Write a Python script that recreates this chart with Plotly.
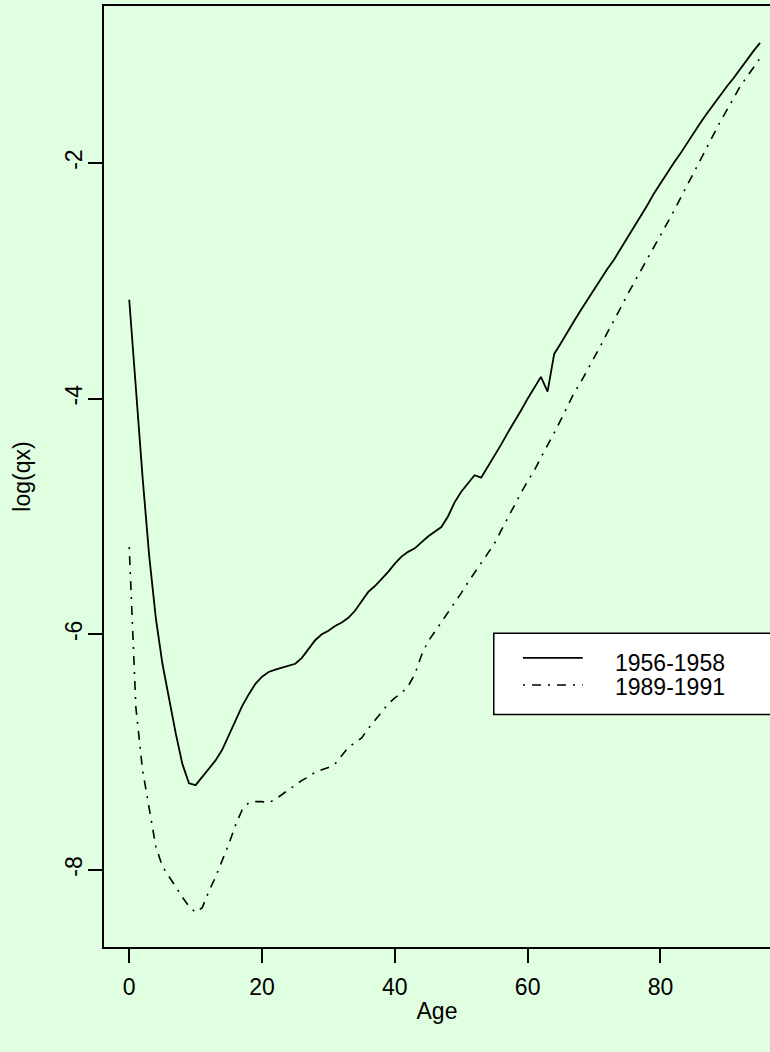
import plotly.graph_objects as go

ages = list(range(0, 96))

qx_1956 = [-3.16, -3.95, -4.66, -5.33, -5.86, -6.25, -6.56, -6.84, -7.10, -7.265,
           -7.28, -7.21, -7.14, -7.07, -6.98, -6.86, -6.73, -6.61, -6.51, -6.42,
           -6.36, -6.32, -6.30, -6.285, -6.27, -6.25, -6.20, -6.13, -6.05, -6.00,
           -5.97, -5.93, -5.90, -5.86, -5.80, -5.72, -5.64, -5.59, -5.53, -5.47,
           -5.40, -5.34, -5.30, -5.27, -5.22, -5.17, -5.13, -5.09, -5.00, -4.88,
           -4.79, -4.72, -4.65, -4.67, -4.58, -4.48, -4.39, -4.29, -4.20, -4.10,
           -4.00, -3.91, -3.815, -3.94, -3.62, -3.53, -3.43, -3.34, -3.25, -3.16,
           -3.07, -2.99, -2.90, -2.82, -2.73, -2.64, -2.55, -2.45, -2.36, -2.26,
           -2.17, -2.09, -2.00, -1.92, -1.83, -1.74, -1.66, -1.58, -1.50, -1.43,
           -1.35, -1.28, -1.20, -1.13, -1.05, -0.98]

qx_1989 = [-5.26, -6.62, -7.15, -7.48, -7.80, -7.97, -8.06, -8.15, -8.23, -8.31,
           -8.36, -8.32, -8.18, -8.06, -7.92, -7.78, -7.62, -7.49, -7.43, -7.42,
           -7.42, -7.43, -7.40, -7.36, -7.32, -7.28, -7.24, -7.21, -7.17, -7.15,
           -7.13, -7.10, -7.03, -6.96, -6.92, -6.88, -6.80, -6.73, -6.66, -6.59,
           -6.54, -6.50, -6.44, -6.34, -6.18, -6.06, -5.98, -5.90, -5.82, -5.74,
           -5.65, -5.56, -5.48, -5.40, -5.32, -5.23, -5.12, -5.01, -4.91, -4.80,
           -4.70, -4.61, -4.50, -4.40, -4.29, -4.18, -4.06, -3.95, -3.86, -3.76,
           -3.65, -3.55, -3.44, -3.34, -3.23, -3.12, -3.02, -2.91, -2.81, -2.71,
           -2.61, -2.51, -2.41, -2.30, -2.19, -2.08, -1.97, -1.86, -1.75, -1.65,
           -1.55, -1.45, -1.35, -1.27, -1.19, -1.11]

series_names = ["1956-1958", "1989-1991"]
x_ticks = [0, 20, 40, 60, 80]
y_ticks = [-8, -6, -4, -2]
y_tick_labels = ["-8", "-6", "-4", "-2"]

BG = "#E0FFE0"
FONT = "Liberation Sans, Arial, sans-serif"
DASHDOT = "2px,7px,9px,7px"

fig = go.Figure()
fig.add_trace(go.Scatter(x=ages, y=qx_1956, mode="lines", name=series_names[0],
                         line=dict(color="black", width=1.8), showlegend=False))
fig.add_trace(go.Scatter(x=ages, y=qx_1989, mode="lines", name=series_names[1],
                         line=dict(color="black", width=1.6, dash=DASHDOT), showlegend=False))

# legend box (right edge runs off the page like in the reference)
fig.add_shape(type="rect", xref="x", yref="y", x0=54.9, x1=110, y0=-6.68, y1=-5.99,
              line=dict(color="black", width=1.5), fillcolor="white", layer="below")
fig.add_shape(type="line", xref="x", yref="y", x0=59.3, x1=68.3, y0=-6.20, y1=-6.20,
              line=dict(color="black", width=1.6))
fig.add_shape(type="line", xref="x", yref="y", x0=59.3, x1=68.3, y0=-6.43, y1=-6.43,
              line=dict(color="black", width=1.4, dash=DASHDOT))
fig.add_annotation(x=72.8, y=-6.24, xref="x", yref="y", text=series_names[0],
                   showarrow=False, xanchor="left", yanchor="middle",
                   font=dict(size=23, color="black", family=FONT))
fig.add_annotation(x=72.8, y=-6.445, xref="x", yref="y", text=series_names[1],
                   showarrow=False, xanchor="left", yanchor="middle",
                   font=dict(size=23, color="black", family=FONT))

fig.update_layout(
    width=770, height=1052,
    margin=dict(l=104, r=0, t=6, b=105),
    paper_bgcolor=BG, plot_bgcolor=BG,
    font=dict(family=FONT, size=23, color="black"),
)
fig.update_xaxes(range=[-3.8, 96.5], tickvals=x_ticks, ticks="outside", ticklen=14,
                 tickwidth=1.5, tickcolor="black", showline=True, linecolor="black",
                 linewidth=1.5, mirror=True, showgrid=False, zeroline=False,
                 ticklabelstandoff=5,
                 title=dict(text="Age", standoff=4, font=dict(size=23)))
fig.update_yaxes(range=[-8.654, -0.667], tickvals=y_ticks, ticktext=y_tick_labels,
                 ticks="outside", ticklen=14,
                 tickwidth=1.5, tickcolor="black", showline=True, linecolor="black",
                 linewidth=1.5, mirror=False, showgrid=False, zeroline=False,
                 tickangle=-90, ticklabelstandoff=-3,
                 title=dict(text="log(qx)", standoff=24, font=dict(size=23)))

fig.write_html("out.html")
